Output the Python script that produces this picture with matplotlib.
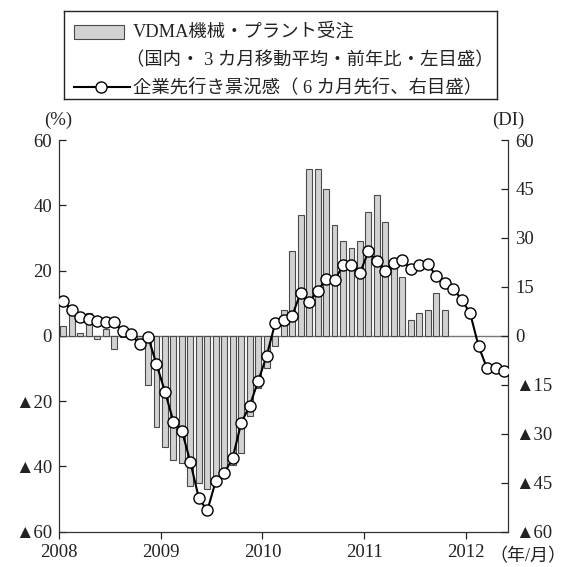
import numpy as np
import pandas as pd
import matplotlib
matplotlib.use("Agg")
import matplotlib.pyplot as plt
from matplotlib.patches import Rectangle

plt.rcParams['font.family'] = ['Liberation Serif', 'Noto Sans CJK JP', 'DejaVu Sans']

# VDMA orders (domestic, 3-month moving avg, yoy %, left axis), 2008-01 .. 2011-10
order_months = pd.period_range("2008-01", "2011-10", freq="M")
orders = [3.0, 7.0, 1.0, 7.0, -1.0, 2.0, -4.0, -0.5, -1.0, -2.5,
          -15.0, -28.0, -34.0, -38.0, -39.0, -46.0, -45.0, -47.0, -44.0, -43.0,
          -39.5, -36.0, -24.5, -16.0, -10.0, -3.0, 8.0, 26.0, 37.0, 51.0,
          51.0, 45.0, 34.0, 29.0, 27.0, 29.0, 38.0, 43.0, 35.0, 24.0,
          18.0, 5.0, 7.0, 8.0, 13.0, 8.0]

# business expectations (6 months ahead, DI, right axis), 2008-01 .. 2012-05
di_months = pd.period_range("2008-01", "2012-05", freq="M")
expectations = [10.8, 7.8, 5.9, 5.1, 4.6, 4.2, 4.1, 1.5, 0.6, -2.6,
                -0.2, -8.7, -17.1, -26.3, -29.1, -38.7, -49.8, -53.5, -44.4, -42.1,
                -37.3, -26.6, -21.4, -13.8, -6.1, 3.9, 5.0, 6.2, 13.1, 10.4,
                13.6, 17.4, 17.0, 21.6, 21.6, 19.2, 25.9, 22.8, 19.9, 22.3,
                23.1, 20.4, 21.8, 22.0, 18.4, 16.3, 14.5, 11.1, 6.9, -3.2,
                -10.0, -9.8, -10.7]

years = [2008, 2009, 2010, 2011, 2012]
left_ticks = [60, 40, 20, 0, -20, -40, -60]
right_ticks = [60, 45, 30, 15, 0, -15, -30, -45, -60]

bar_label = "VDMA機械・プラント受注"
bar_label2 = "（国内・ 3 カ月移動平均・前年比・左目盛）"
line_label = "企業先行き景況感（ 6 カ月先行、右目盛）"


def to_year(months):
    return np.array([p.year + (p.month - 0.5) / 12 for p in months])


def tri(v):
    return f"▲{abs(v)}" if v < 0 else f"{v}"


W, H = 566, 567
fig = plt.figure(figsize=(W / 100, H / 100), dpi=100)
ax = fig.add_axes([59 / W, 1 - 531.7 / H, 449.3 / W, 391.7 / H])
ax2 = ax.twinx()

# bars
ax.bar(to_year(order_months), orders, width=0.7 / 12, color="#d2d2d2",
       edgecolor="#4a4a4a", linewidth=0.8, zorder=2)
ax.axhline(0, color="#777777", lw=1.0, zorder=1)

# line
ax2.plot(to_year(di_months), expectations, color="black", lw=1.5,
         marker="o", ms=8, mfc="white", mec="black", mew=1.0, zorder=3)

ax.set_xlim(2008, 2008 + len(di_months) / 12)
ax.set_ylim(-60, 60)
ax2.set_ylim(-60, 60)

ax.set_xticks(years)
ax.set_xticklabels([str(y) for y in years])
ax.set_yticks(left_ticks)
ax.set_yticklabels([tri(v) for v in left_ticks])
ax2.set_yticks(right_ticks)
ax2.set_yticklabels([tri(v) for v in right_ticks])

for a in (ax, ax2):
    a.spines["top"].set_visible(False)
    for s in a.spines.values():
        s.set_color("#333333")
        s.set_linewidth(0.9)
ax.spines["right"].set_visible(False)
ax2.spines["left"].set_visible(False)
ax2.spines["bottom"].set_visible(False)

ax.tick_params(axis="y", direction="in", length=5, width=0.9, pad=5,
               labelsize=13.5, colors="#222222")
ax.tick_params(axis="x", direction="out", length=5, width=0.9, pad=4,
               labelsize=13.5, colors="#222222")
ax2.tick_params(axis="y", direction="in", length=5, width=0.9, pad=5,
                labelsize=13.5, colors="#222222")

fig.text(58 / W, 1 - 120 / H, "(%)", ha="center", va="center", fontsize=13.5, color="#222222")
fig.text(508 / W, 1 - 120 / H, "(DI)", ha="center", va="center", fontsize=13.5, color="#222222")
fig.text(528 / W, 1 - 557 / H, "（年/月）", ha="center", va="center", fontsize=13, color="#222222")

# legend box
lg = fig.add_axes([64 / W, 1 - 99 / H, (497 - 64) / W, 88 / H])
lg.set_xlim(0, 433)
lg.set_ylim(88, 0)
lg.set_xticks([])
lg.set_yticks([])
for s in lg.spines.values():
    s.set_color("#222222")
    s.set_linewidth(1.0)
lg.add_patch(Rectangle((10, 14), 50, 14, facecolor="#d2d2d2", edgecolor="#4a4a4a", lw=0.8))
lg.plot([10, 66], [76, 76], color="black", lw=1.5)
lg.plot([37], [76], marker="o", ms=8, mfc="white", mec="black", mew=1.0)
lg.text(69, 21, bar_label, ha="left", va="center", fontsize=13.2, color="#222222")
lg.text(62, 50, bar_label2, ha="left", va="center", fontsize=13.2, color="#222222")
lg.text(69, 76, line_label, ha="left", va="center", fontsize=13.2, color="#222222")

fig.savefig("out.png", dpi=100)
